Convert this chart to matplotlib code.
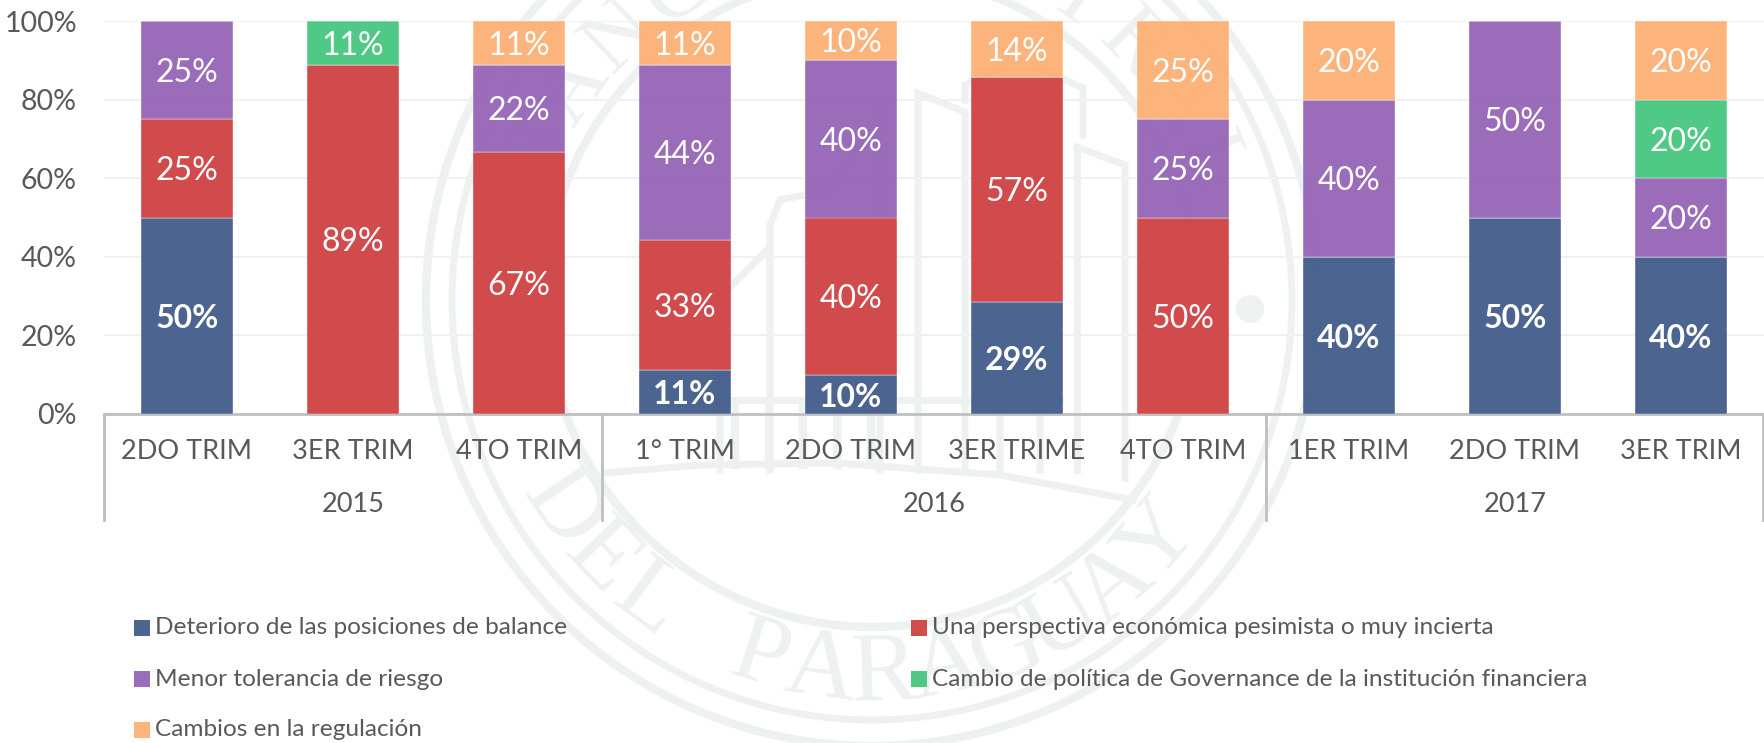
import numpy as np
import matplotlib
matplotlib.use("Agg")
import matplotlib.pyplot as plt
from matplotlib.patches import Circle, Rectangle

plt.rcParams["font.family"] = ["Lato", "DejaVu Sans"]

trimestres = ["2DO TRIM", "3ER TRIM", "4TO TRIM", "1° TRIM", "2DO TRIM", "3ER TRIME", "4TO TRIM", "1ER TRIM", "2DO TRIM", "3ER TRIM"]
anios = ["2015", "2016", "2017"]
anio_n = [3, 4, 3]

deterioro = [50, 0, 0, 11.1, 10, 28.6, 0, 40, 50, 40]
perspectiva = [25, 88.9, 66.7, 33.3, 40, 57.1, 50, 0, 0, 0]
tolerancia = [25, 0, 22.2, 44.4, 40, 0, 25, 40, 50, 20]
governance = [0, 11.1, 0, 0, 0, 0, 0, 0, 0, 20]
regulacion = [0, 0, 11.1, 11.2, 10, 14.3, 25, 20, 0, 20]

series = [deterioro, perspectiva, tolerancia, governance, regulacion]
nombres = ["Deterioro de las posiciones de balance",
           "Una perspectiva económica pesimista o muy incierta",
           "Menor tolerancia de riesgo",
           "Cambio de política de Governance de la institución financiera",
           "Cambios en la regulación"]
colores = ["#3e5888", "#ce3d3f", "#9361b4", "#42c57c", "#fdaf72"]

W, H = 1765, 743
fig = plt.figure(figsize=(W / 100, H / 100), dpi=100)

# sello de fondo, en pixeles de la figura
bg = fig.add_axes([0, 0, 1, 1], zorder=0)
bg.set_xlim(0, W)
bg.set_ylim(H, 0)
bg.axis("off")
gris = "#edf1f0"
cx, cy = 872, 300
for r, lw in [(446, 6), (420, 5), (327, 6)]:
    bg.add_patch(Circle((cx, cy), r, fill=False, ec=gris, lw=lw))
bg.add_patch(Circle((1250, 309), 14, fc=gris, ec="none"))
bg.add_patch(Circle((507, 310), 14, fc=gris, ec="none"))

# edificio
trazos = [
    [(918, 470), (918, 93), (965, 112), (965, 470)],
    [(965, 100), (965, 85), (1020, 60), (1083, 88), (1083, 135)],
    [(1000, 470), (1000, 125), (1020, 112), (1040, 125), (1040, 470)],
    [(1077, 147), (1125, 165), (1125, 478)],
    [(1077, 147), (1077, 470)],
    [(770, 470), (770, 225), (780, 200), (830, 190), (880, 110), (880, 470)],
    [(720, 470), (720, 297), (767, 250)],
    [(605, 473), (700, 465), (837, 463), (1000, 475), (1133, 500)],
    [(650, 400), (1060, 400)],
]
for tr in trazos:
    px, py = zip(*tr)
    bg.plot(px, py, color=gris, lw=5, solid_joinstyle="miter")
for x0 in range(735, 905, 34):
    bg.plot([x0, x0], [405, 465], color=gris, lw=6)


def arco(txt, ang0, ang1, r, arriba=True, size=64):
    for c, a in zip(txt, np.linspace(ang0, ang1, len(txt))):
        t = np.radians(a)
        px = cx + r * np.sin(t)
        py = cy - r * np.cos(t)
        rot = -a if arriba else 180 - a
        bg.text(px, py, c, color=gris, fontsize=size, family="Liberation Serif", rotation=rot,
                rotation_mode="anchor", ha="center", va="center")


arco("BANCO CENTRAL", -66, 68, 365)
arco("DEL PARAGUAY", 236, 130, 375, arriba=False, size=72)

ax = fig.add_axes([104 / W, 1 - 414 / H, 1660 / W, 393 / H], zorder=1)
ax.patch.set_alpha(0)

x = np.arange(len(trimestres))
base = np.zeros(len(trimestres))
for k, (vals, nom, col) in enumerate(zip(series, nombres, colores)):
    v = np.array(vals, dtype=float)
    ax.bar(x, v, 0.56, bottom=base, color=col, alpha=0.93, label=nom, edgecolor="white", linewidth=0.3, zorder=3)
    for i, val in enumerate(vals):
        if val > 0:
            ax.annotate(f"{round(val)}%", (x[i], base[i] + val / 2), xytext=(0, -2), textcoords="offset points",
                        color="white", fontsize=23, ha="center", va="center", zorder=4,
                        fontweight="bold" if k == 0 else "normal")
    base += v

ax.set_xlim(-0.5, len(trimestres) - 0.5)
ax.set_ylim(0, 100)
ax.set_yticks(range(0, 101, 20))
ax.set_yticklabels([f"{t}%" for t in range(0, 101, 20)], fontsize=20.5, color="#595959")
ax.grid(axis="y", color="#f1f1f1", lw=1.5, zorder=0)
ax.tick_params(axis="y", length=0, pad=19.5)
ax.set_xticks([])
for s in ["top", "right", "left"]:
    ax.spines[s].set_visible(False)
ax.spines["bottom"].set_color("#bfbfbf")
ax.spines["bottom"].set_linewidth(2)

# eje de dos niveles
trans = ax.get_xaxis_transform()
for i, t in enumerate(trimestres):
    ax.annotate(t, (x[i], 0), xycoords=trans, xytext=(0, -27), textcoords="offset points",
                ha="center", va="center", fontsize=19.5, color="#595959")
pos = -0.5
lineas = [pos]
for anio, n in zip(anios, anio_n):
    ax.annotate(anio, (pos + n / 2, 0), xycoords=trans, xytext=(0, -65), textcoords="offset points",
                ha="center", va="center", fontsize=19.5, color="#595959")
    pos += n
    lineas.append(pos)
for l in lineas[:-1] + [lineas[-1] - 0.004]:
    ax.plot([l, l], [0, -27], color="#bfbfbf", lw=2, clip_on=False, zorder=2)

# leyenda
colores_ley = ["#4c6490", "#d24b4d", "#9b6cb9", "#4fc985", "#fdb57c"]
for i, (nom, col) in enumerate(zip(nombres, colores_ley)):
    lx = 134 if i % 2 == 0 else 911
    ly = 628 + 51 * (i // 2)
    bg.add_patch(Rectangle((lx, ly - 8), 16, 16, fc=col, ec="none", zorder=5))
    bg.text(lx + 21, ly, nom, ha="left", va="center", fontsize=17.6, color="#595959", zorder=5)

fig.savefig("out.png", dpi=100)
